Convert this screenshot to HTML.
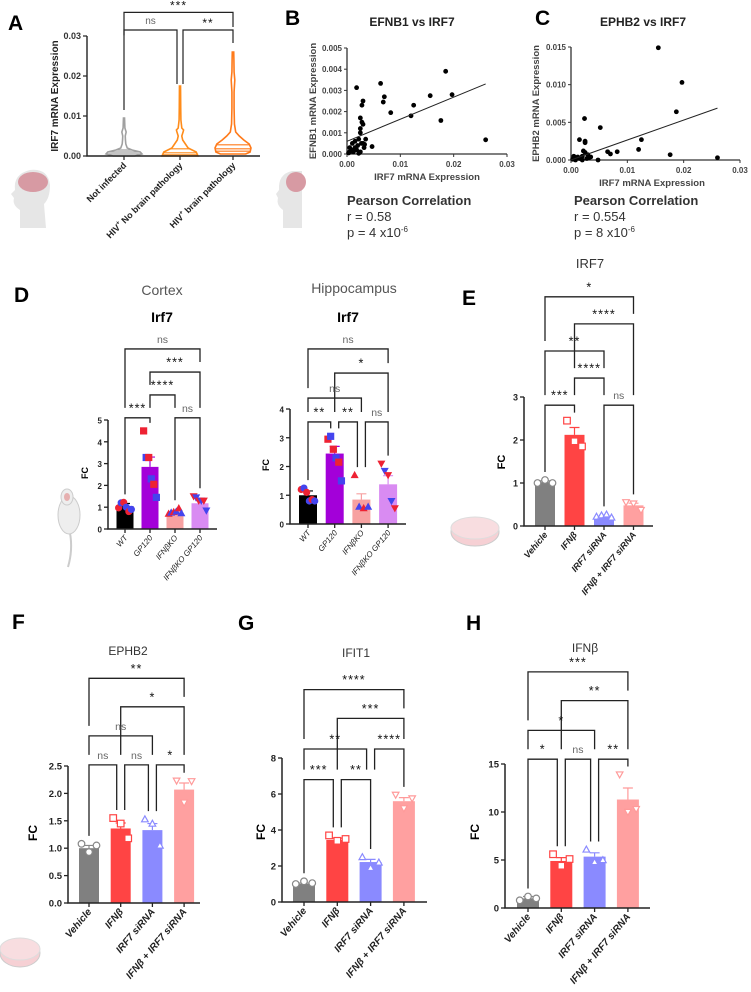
<!DOCTYPE html>
<html><head><meta charset="utf-8"><style>
html,body{margin:0;padding:0;background:#fff}
svg{display:block;font-family:"Liberation Sans",Arial,sans-serif}
</style></head><body>
<svg id="fig" width="751" height="992" viewBox="0 0 751 992" xmlns="http://www.w3.org/2000/svg">
<g font-weight="bold" font-size="21" fill="#000">
<text x="8" y="30">A</text>
<text x="285" y="25">B</text>
<text x="535" y="25">C</text>
<text x="14" y="302">D</text>
<text x="462" y="305">E</text>
<text x="12" y="629">F</text>
<text x="238" y="630">G</text>
<text x="466" y="630">H</text>
</g>
<text x="412" y="26" font-size="12" font-weight="bold" text-anchor="middle" fill="#222">EFNB1 vs IRF7</text>
<text x="643" y="26" font-size="12" font-weight="bold" text-anchor="middle" fill="#222">EPHB2 vs IRF7</text>
<text x="162" y="295" font-size="14" text-anchor="middle" fill="#555">Cortex</text>
<text x="354" y="293" font-size="14" text-anchor="middle" fill="#555">Hippocampus</text>
<text x="162" y="322" font-size="14" font-weight="bold" text-anchor="middle">Irf7</text>
<text x="348" y="322" font-size="14" font-weight="bold" text-anchor="middle">Irf7</text>
<text x="590" y="268" font-size="13" text-anchor="middle" fill="#333">IRF7</text>
<text x="128" y="655" font-size="12" text-anchor="middle" fill="#333">EPHB2</text>
<text x="356" y="657" font-size="12" text-anchor="middle" fill="#333">IFIT1</text>
<text x="585" y="652" font-size="12" text-anchor="middle" fill="#333">IFNβ</text>
<g font-size="13" fill="#333">
<text x="347" y="205" font-weight="bold">Pearson Correlation</text>
<text x="347" y="221">r = 0.58</text>
<text x="347" y="237">p = 4 x10<tspan font-size="8" dy="-5">-6</tspan></text>
<text x="574" y="205" font-weight="bold">Pearson Correlation</text>
<text x="574" y="221">r = 0.554</text>
<text x="574" y="237">p = 8 x10<tspan font-size="8" dy="-5">-6</tspan></text>
</g>
<g>
<path d="M20,228 L20,210 Q12,205 14,198 L11,194 L15,190 Q13,174 30,170 Q48,168 50,185 Q50,198 44,204 L46,228 Z" fill="#e6e6e6"/>
<ellipse cx="33" cy="182" rx="15" ry="10" fill="#d79aa3"/>
</g>
<g>
<path d="M283,228 L283,210 Q276,205 278,198 L276,194 L279,190 Q278,174 292,171 L302,171 L302,228 Z" fill="#e6e6e6"/>
<ellipse cx="296" cy="182" rx="10" ry="10" fill="#d79aa3"/>
</g>
<g>
<path d="M70,533 Q73,550 68,567" stroke="#ccc" stroke-width="2" fill="none"/>
<ellipse cx="69" cy="515" rx="11" ry="19" fill="#eee" stroke="#ccc"/>
<ellipse cx="67" cy="497" rx="6" ry="8" fill="#eee" stroke="#ccc"/>
<ellipse cx="67" cy="497" rx="3" ry="4" fill="#e6b0b0"/>
</g>
<g>
<ellipse cx="475" cy="532" rx="24" ry="14" fill="#f6d0d4" stroke="#ccc"/>
<ellipse cx="475" cy="528" rx="24" ry="11" fill="#f8dde0" stroke="#ddd"/>
</g>
<g>
<ellipse cx="20" cy="953" rx="20" ry="14" fill="#f6d0d4" stroke="#ccc"/>
<ellipse cx="20" cy="949" rx="20" ry="11" fill="#f8dde0" stroke="#ddd"/>
</g>
</svg>
<script>
const A_categories = ["Not infected", "No brain pathology", "brain pathology"];
const A_ticks = [0, 0.01, 0.02, 0.03];
const A_tickLabels = ["0.00", "0.01", "0.02", "0.03"];
const A_violin0 = [[0,0.6],[0.0005,1],[0.001,0.9],[0.0015,0.45],[0.002,0.18],[0.003,0.1],[0.004,0.08],[0.005,0.07],[0.006,0.12],[0.007,0.05],[0.0095,0.03]];
const A_violin1 = [[0,1],[0.001,0.9],[0.002,0.45],[0.003,0.3],[0.004,0.15],[0.005,0.1],[0.006,0.17],[0.0065,0.2],[0.007,0.1],[0.009,0.05],[0.012,0.04],[0.0175,0.03]];
const A_violin2 = [[0.0005,0.7],[0.001,0.95],[0.002,1],[0.003,0.9],[0.004,0.6],[0.005,0.35],[0.006,0.15],[0.008,0.08],[0.012,0.06],[0.016,0.06],[0.019,0.1],[0.021,0.06],[0.024,0.05],[0.026,0.04]];
const A_quartiles = [[0.0005,0.001,0.0015],[0.0003,0.0008,0.0018],[0.0012,0.0018,0.0028]];
const A_brackets = [[0,2,"***",0.0359],[0,1,"ns",0.0315],[1,2,"**",0.0315]];

const B_x = [0.0018,0.0063,0.0185,0.0197,0.0156,0.007,0.0068,0.003,0.0028,0.0082,0.0125,0.012,0.0176,0.026,0.0025,0.0028,0.003,0.0025,0.0025,0.0022,0.0035,0.003,0.0047,0.0032,0.002,0.0015,0.001,0.0008,0.0005,0.0003,0.0012,0.0018,0.0025,0.0022,0.0005,0.0015,0.0027,0.0033,0.0011];
const B_y = [0.00313,0.00333,0.0039,0.0028,0.00275,0.0027,0.00245,0.0025,0.0023,0.00195,0.0023,0.0018,0.00158,0.00067,0.0017,0.0015,0.0014,0.0012,0.001,0.0007,0.0007,0.0005,0.00035,0.0003,0.0004,0.0003,0.0005,0.0002,0.0001,0.00005,0.0001,0.0002,0.0001,0.00003,0.0003,0.0006,0.0005,0.00045,0.00015];
const B_fit = [0.104, 0.0006];
const B_xTicks = [0, 0.01, 0.02, 0.03];
const B_xLabels = ["0.00","0.01","0.02","0.03"];
const B_yTicks = [0,0.001,0.002,0.003,0.004,0.005];
const B_yLabels = ["0.000","0.001","0.002","0.003","0.004","0.005"];
const C_x = [0.0155,0.0197,0.0187,0.0024,0.0052,0.0125,0.012,0.0015,0.0025,0.0025,0.0065,0.007,0.0082,0.0176,0.026,0.0048,0.003,0.0025,0.002,0.0035,0.001,0.0005,0.0003,0.0015,0.0028,0.0008,0.002,0.0022,0.0032,0.0012];
const C_y = [0.0149,0.0103,0.0064,0.0055,0.0043,0.0027,0.0014,0.0027,0.0025,0.0023,0.0011,0.0008,0.0011,0.0007,0.0003,0.0,0.0007,0.001,0.0005,0.0004,0.0003,0.0005,0.0001,0.0002,0.0002,0.0,0.0,0.0012,0.0003,0.0004];
const C_fit = [0.265, 0.0000];
const C_xTicks = [0, 0.01, 0.02, 0.03];
const C_xLabels = ["0.00","0.01","0.02","0.03"];
const C_yTicks = [0,0.005,0.010,0.015];
const C_yLabels = ["0.000","0.005","0.010","0.015"];

const D_categories = ["WT","GP120","IFNβKO","IFNβKO GP120"];
const DC_means = [1.05, 2.85, 0.75, 1.18];
const DC_errors = [0.12, 0.45, 0.05, 0.12];
const DC_points = [[0.97,1.2,1.22,1.0,0.8,0.9],[4.5,3.28,3.28,2.3,2.05,1.45],[0.7,0.75,0.78,0.8,0.95,0.72],[1.5,1.45,1.3,1.3,1.3,0.85]];
const DC_ticks = [0,1,2,3,4,5];
const DC_brackets = [[0,3,"ns",8.26],[1,3,"***",7.2],[1,2,"****",6.15],[0,1,"***",5.1],[2,3,"ns",5.1]];
const DH_means = [1.0, 2.45, 0.85, 1.38];
const DH_errors = [0.15, 0.25, 0.2, 0.3];
const DH_points = [[1.2,1.25,1.1,0.8,0.85,0.8],[2.95,3.05,2.6,2.3,2.15,1.5],[1.7,0.6,0.55,0.6],[2.1,1.85,1.7,0.8,0.55]];
const DH_ticks = [0,1,2,3,4];
const DH_brackets = [[0,3,"ns",6.09],[1,3,"*",5.25],[0,2,"ns",4.38],[0,1,"**",3.55],[1,2,"**",3.55],[2,3,"ns",3.55]];
const T_categories = ["Vehicle","IFNβ","IRF7 siRNA","IFNβ + IRF7 siRNA"];
const E_means = [1.02, 2.12, 0.22, 0.48];
const E_errors = [0.03, 0.17, 0.03, 0.05];
const E_points = [[1.0,1.07,1.0],[2.45,1.97,1.85],[0.22,0.25,0.27,0.2],[0.55,0.52,0.37]];
const E_ticks = [0,1,2,3];
const E_brackets = [[0,3,"*",5.33],[1,3,"****",4.7],[0,2,"**",4.07],[1,2,"****",3.44],[0,1,"***",2.81],[2,3,"ns",2.81]];
const F_means = [1.0, 1.36, 1.33, 2.07];
const F_errors = [0.05, 0.1, 0.12, 0.12];
const F_points = [[1.08,0.93,1.05],[1.55,1.45,1.18],[1.53,1.45,1.05],[2.23,1.83,2.22]];
const F_ticks = [0,0.5,1,1.5,2,2.5];
const F_brackets = [[0,3,"**",4.1],[1,3,"*",3.58],[0,2,"ns",3.05],[0,1,"ns",2.52],[1,2,"ns",2.52],[2,3,"*",2.52]];
const G_means = [1.0, 3.45, 2.22, 5.6];
const G_errors = [0.05, 0.1, 0.15, 0.2];
const G_points = [[1.0,1.15,1.05],[3.7,3.4,3.5],[2.5,1.9,2.2],[5.95,5.2,5.75]];
const G_ticks = [0,2,4,6,8];
const G_brackets = [[0,3,"****",11.8],[1,3,"***",10.2],[0,2,"**",8.5],[2,3,"****",8.5],[0,1,"***",6.8],[1,2,"**",6.8]];
const H_means = [1.0, 4.9, 5.35, 11.3];
const H_errors = [0.2, 0.35, 0.4, 1.2];
const H_points = [[0.8,1.2,1.0],[5.6,4.4,5.1],[6.1,4.8,5.0],[13.9,10.0,10.3]];
const H_ticks = [0,5,10,15];
const H_brackets = [[0,3,"***",24.6],[1,3,"**",21.6],[0,2,"*",18.5],[0,1,"*",15.5],[1,2,"ns",15.5],[2,3,"**",15.5]];

const NS = "http://www.w3.org/2000/svg";
const svg = document.getElementById("fig");
function mk(tag, attrs, parent) {
  const e = document.createElementNS(NS, tag);
  for (const k in attrs) e.setAttribute(k, attrs[k]);
  (parent || svg).appendChild(e);
  return e;
}
function txt(s, attrs, parent) { const t = mk("text", attrs, parent); t.textContent = s; return t; }

(function () {
  const g = mk("g", {});
  
  
  const ax = 87, y0 = 156, ytop = 36, vmax = 0.03;
  const ys = v => y0 - (v / vmax) * (y0 - ytop);
  const xs = [124, 180, 233];
  const cols = ["#a0a0a0", "#ff8c1a", "#ff7a1a"];
  const profiles = [A_violin0, A_violin1, A_violin2];
  const maxHalf = 18;
  profiles.forEach((prof, i) => {
    let right = "", left = "";
    prof.forEach((p, k) => { right += (k ? "L" : "M") + (xs[i] + p[1] * maxHalf) + "," + ys(p[0]) + " "; });
    for (let k = prof.length - 1; k >= 0; k--) left += "L" + (xs[i] - prof[k][1] * maxHalf) + "," + ys(prof[k][0]) + " ";
    const v = mk("path", { d: right + left + "Z", fill: "none", stroke: cols[i], "stroke-width": 1.6 }, g);
    
    
    A_quartiles[i].forEach((q) => {
      let w = 0;
      for (let k = 0; k < prof.length - 1; k++) if (q >= prof[k][0] && q <= prof[k + 1][0]) { const t = (q - prof[k][0]) / (prof[k + 1][0] - prof[k][0]); w = prof[k][1] + t * (prof[k + 1][1] - prof[k][1]); }
      const l = mk("line", { x1: xs[i] - w * maxHalf, x2: xs[i] + w * maxHalf, y1: ys(q), y2: ys(q), stroke: cols[i], "stroke-width": 1.2 }, g);
      
      
    });
  });
  const axis = mk("path", { d: `M${ax},${ytop} L${ax},${y0} L260,${y0}`, stroke: "#222", "stroke-width": 1.4, fill: "none" }, g);
  
  
  A_ticks.forEach((t, i) => {
    mk("line", { x1: ax - 4, x2: ax, y1: ys(t), y2: ys(t), stroke: "#222", "stroke-width": 1.2 }, g);
    const tl = txt(A_tickLabels[i], { x: ax - 6, y: ys(t) + 3, "font-size": 9, "font-weight": "bold", "text-anchor": "end", fill: "#333" }, g);
    
    
  });
  xs.forEach(x => mk("line", { x1: x, x2: x, y1: y0, y2: y0 + 4, stroke: "#222", "stroke-width": 1.2 }, g));
  const yl = txt("IRF7 mRNA Expression", { x: 0, y: 0, "font-size": 10, "font-weight": "bold", "text-anchor": "middle", transform: "translate(58,96) rotate(-90)", fill: "#222" }, g);
  
  
  const labs = [["", A_categories[0]], ["HIV", " " + A_categories[1]], ["HIV", " " + A_categories[2]]];
  xs.forEach((x, i) => {
    const t = mk("text", { x: 0, y: 0, "font-size": 9, "font-weight": "bold", "text-anchor": "end", fill: "#222", transform: `translate(${x + 3},${y0 + 10}) rotate(-45)` }, g);
    
    
    if (labs[i][0]) {
      const a = mk("tspan", {}, t); a.textContent = "HIV";
      const b = mk("tspan", { "font-size": 6, dy: -4 }, t); b.textContent = "+";
      const c = mk("tspan", { dy: 4 }, t); c.textContent = labs[i][1];
    } else t.textContent = labs[i][1];
  });
  A_brackets.forEach(b => {
    let x1 = xs[b[0]], x2 = xs[b[1]];
    const y = ys(b[3]);
    if (b[0] === 1) x1 += 3;
    if (b[1] === 1) x2 -= 3;
    const bot1 = b[1] === 2 && b[0] === 0 ? y + 23 : (b[0] === 0 ? 110 : 84);
    const bot2 = b[1] === 2 && b[0] === 0 ? ys(0.0315) - 3 : (b[1] === 1 ? 84 : 43);
    const p = mk("path", { d: `M${x1},${bot1} L${x1},${y} L${x2},${y} L${x2},${bot2}`, fill: "none", stroke: "#222", "stroke-width": 1.2 }, g);
    
    
    const isNs = b[2] === "ns";
    const lt = txt(b[2], { x: (x1 + x2) / 2, y: isNs ? y - 6 : y - 3, "font-size": isNs ? 10 : 12, "text-anchor": "middle", fill: isNs ? "#666" : "#111", "letter-spacing": isNs ? 0 : 1 }, g);
    
    
  });
})();

function scatter(cfg) {
  const g = mk("g", {});
  
  
  const xs = v => cfg.ax + v / cfg.xmax * (cfg.xEnd - cfg.ax);
  const ys = v => cfg.y0 - v / cfg.ymax * (cfg.y0 - cfg.yTop);
  const axis = mk("path", { d: `M${cfg.ax},${cfg.yTop} L${cfg.ax},${cfg.y0} L${cfg.xEnd},${cfg.y0}`, stroke: "#333", "stroke-width": 1.3, fill: "none" }, g);
  
  
  cfg.yTicks.forEach((t, i) => {
    mk("line", { x1: cfg.ax - 3, x2: cfg.ax, y1: ys(t), y2: ys(t), stroke: "#333" }, g);
    const l = txt(cfg.yLabels[i], { x: cfg.ax - 5, y: ys(t) + 3, "font-size": 8, "font-weight": "bold", "text-anchor": "end", fill: "#444" }, g);
    
    
  });
  cfg.xTicks.forEach((t, i) => {
    mk("line", { x1: xs(t), x2: xs(t), y1: cfg.y0, y2: cfg.y0 + 3, stroke: "#333" }, g);
    const l = txt(cfg.xLabels[i], { x: xs(t), y: cfg.y0 + 13, "font-size": 8, "font-weight": "bold", "text-anchor": "middle", fill: "#444" }, g);
    
    
  });
  const xt = txt("IRF7 mRNA Expression", { x: cfg.xLabelX, y: cfg.y0 + 26, "font-size": 9.5, "font-weight": "bold", "text-anchor": "middle", fill: "#444" }, g);
  
  
  const yt = txt(cfg.yTitle, { x: 0, y: 0, "font-size": 9.5, "font-weight": "bold", "text-anchor": "middle", fill: "#444", transform: `translate(${cfg.yTitleX},${(cfg.y0 + cfg.yTop) / 2}) rotate(-90)` }, g);
  
  
  cfg.X.forEach((x, i) => {
    const c = mk("circle", { cx: xs(x), cy: ys(cfg.Y[i]), r: 2.4, fill: "#000" }, g);
    
    
  });
  const x2 = 0.026;
  const fl = mk("line", { x1: xs(0), y1: ys(cfg.fit[1]), x2: xs(x2), y2: ys(cfg.fit[1] + cfg.fit[0] * x2), stroke: "#222", "stroke-width": 1 }, g);
  
  
}
scatter({ name: "scatter-efnb1-irf7", ax: 347, y0: 154, yTop: 48, ymax: 0.005, xEnd: 507, xmax: 0.03, X: B_x, Y: B_y, fit: B_fit, xTicks: B_xTicks, xLabels: B_xLabels, yTicks: B_yTicks, yLabels: B_yLabels, xLabelX: 427, yTitle: "EFNB1 mRNA Expression", yTitleX: 316 });
scatter({ name: "scatter-ephb2-irf7", ax: 571, y0: 160, yTop: 47, ymax: 0.015, xEnd: 740, xmax: 0.03, X: C_x, Y: C_y, fit: C_fit, xTicks: C_xTicks, xLabels: C_xLabels, yTicks: C_yTicks, yLabels: C_yLabels, xLabelX: 652, yTitle: "EPHB2 mRNA Expression", yTitleX: 539 });

function marker(g, shape, cx, cy, s, fill, stroke) {
  let e;
  if (shape === "circle") e = mk("circle", { cx, cy, r: s, fill, stroke, "stroke-width": 1.2 }, g);
  else if (shape === "square") e = mk("rect", { x: cx - s, y: cy - s, width: 2 * s, height: 2 * s, fill, stroke, "stroke-width": 1.2 }, g);
  else if (shape === "tri") e = mk("path", { d: `M${cx},${cy - s} L${cx + s},${cy + s * 0.8} L${cx - s},${cy + s * 0.8}Z`, fill, stroke, "stroke-width": 1.2 }, g);
  else e = mk("path", { d: `M${cx},${cy + s} L${cx + s},${cy - s * 0.8} L${cx - s},${cy - s * 0.8}Z`, fill, stroke, "stroke-width": 1.2 }, g);
  return e;
}
function barChart(c) {
  const g = mk("g", {});
  
  
  const ys = v => c.y0 - v * c.ppu;
  const cx = i => c.first + i * c.step;
  const top = c.ticks[c.ticks.length - 1];
  c.means.forEach((m, i) => {
    const b = mk("rect", { x: cx(i) - c.bw / 2, y: ys(m), width: c.bw, height: m * c.ppu, fill: c.colors[i] }, g);
    
    
    const e = mk("path", { d: `M${cx(i)},${ys(m)} L${cx(i)},${ys(m + c.errs[i])} M${cx(i) - 5},${ys(m + c.errs[i])} L${cx(i) + 5},${ys(m + c.errs[i])}`, stroke: c.errColors[i], "stroke-width": 1.2, fill: "none" }, g);
    
    
    const pts = c.points[i], n = pts.length;
    pts.forEach((v, k) => {
      const dx = n > 1 ? (k - (n - 1) / 2) * (c.bw * 0.75 / (n - 1)) : 0;
      const fill = c.filled ? c.pointColors[k % 2] : "#fff";
      const stroke = c.filled ? c.pointColors[k % 2] : c.errColors[i];
      const p = marker(g, c.shapes[i], cx(i) + dx, ys(v), c.ms, fill, stroke);
      
      
    });
  });
  const xEnd = c.axisEnd;
  const axis = mk("path", { d: `M${c.x0},${ys(top)} L${c.x0},${c.y0} L${xEnd},${c.y0}`, stroke: "#222", "stroke-width": 1.5, fill: "none" }, g);
  
  
  c.ticks.forEach(t => {
    mk("line", { x1: c.x0 - 4, x2: c.x0, y1: ys(t), y2: ys(t), stroke: "#222", "stroke-width": 1.3 }, g);
    const l = txt(c.tickFmt(t), { x: c.x0 - 6, y: ys(t) + 3.5, "font-size": c.tickSize, "font-weight": "bold", "text-anchor": "end", fill: "#222" }, g);
    
    
  });
  const fc = txt("FC", { x: 0, y: 0, "font-size": c.fcSize, "font-weight": "bold", "text-anchor": "middle", transform: `translate(${c.fcX},${c.fcY}) rotate(-90)` }, g);
  
  
  c.cats.forEach((s, i) => {
    mk("line", { x1: cx(i), x2: cx(i), y1: c.y0, y2: c.y0 + 4, stroke: "#222", "stroke-width": 1.3 }, g);
    const l = txt(s, { x: 0, y: 0, "font-size": c.labSize, "font-weight": c.labBold ? "bold" : "normal", "font-style": "italic", "text-anchor": "end", fill: "#222", transform: `translate(${cx(i) + 3},${c.y0 + 9}) rotate(-50)` }, g);
    
    
  });
  const dataTop = i => ys(Math.max(c.means[i] + c.errs[i], ...c.points[i])) - 8;
  c.brackets.forEach(b => {
    const [i, j, lab, lev] = b;
    const y = ys(lev);
    let x1 = cx(i), x2 = cx(j);
    c.brackets.forEach(o => { if (o !== b && o[3] === lev) { if (o[1] === i) x1 += 4; if (o[0] === j) x2 -= 4; } });
    const legBottom = gi => {
      let best = null;
      c.brackets.forEach(o => { if (o[3] < lev && (o[0] === gi || o[1] === gi)) { if (best === null || o[3] > best) best = o[3]; } });
      return best === null ? dataTop(gi) : ys(best) - 10;
    };
    const p = mk("path", { d: `M${x1},${legBottom(i)} L${x1},${y} L${x2},${y} L${x2},${legBottom(j)}`, fill: "none", stroke: "#222", "stroke-width": 1.3 }, g);
    
    
    const isNs = lab === "ns";
    const t = txt(lab, { x: (x1 + x2) / 2, y: isNs ? y - 6 : y - 5.5, "font-size": isNs ? 10.5 : 12.5, "text-anchor": "middle", fill: isNs ? "#666" : "#111", "letter-spacing": isNs ? 0 : 1 }, g);
    
    
  });
}
const dCols = ["#000000", "#a300d9", "#f7a1a1", "#d98bf2"];
const tCols = ["#808080", "#ff4444", "#8a8aff", "#ffa0a0"];
const tErr = ["#888", "#ff4444", "#8a8aff", "#ff9a9a"];
const shapes = ["circle", "square", "tri", "tridown"];
const int = t => String(t);
barChart({ name: "bar-chart-cortex-irf7", cats: D_categories, means: DC_means, errs: DC_errors, points: DC_points, ticks: DC_ticks, brackets: DC_brackets,
  x0: 108, y0: 529, ppu: 21.8, first: 125, step: 25, bw: 17, axisEnd: 217, colors: dCols, errColors: dCols, filled: true, pointColors: ["#ee2233", "#4444ee"], shapes, ms: 3,
  tickFmt: int, tickSize: 8, fcX: 88, fcY: 473, fcSize: 9, labSize: 8, labBold: false });
barChart({ name: "bar-chart-hippocampus-irf7", cats: D_categories, means: DH_means, errs: DH_errors, points: DH_points, ticks: DH_ticks, brackets: DH_brackets,
  x0: 290, y0: 524, ppu: 28.75, first: 308, step: 26.7, bw: 18, axisEnd: 406, colors: dCols, errColors: dCols, filled: true, pointColors: ["#ee2233", "#4444ee"], shapes, ms: 3,
  tickFmt: int, tickSize: 8, fcX: 269, fcY: 465, fcSize: 9, labSize: 8, labBold: false });
barChart({ name: "bar-chart-e-irf7", cats: T_categories, means: E_means, errs: E_errors, points: E_points, ticks: E_ticks, brackets: E_brackets,
  x0: 524, y0: 526, ppu: 43, first: 545, step: 29.5, bw: 20, axisEnd: 653, colors: tCols, errColors: tErr, filled: false, shapes, ms: 3.3,
  tickFmt: int, tickSize: 9, fcX: 505, fcY: 462, fcSize: 11, labSize: 9, labBold: true });
barChart({ name: "bar-chart-f-ephb2", cats: T_categories, means: F_means, errs: F_errors, points: F_points, ticks: F_ticks, brackets: F_brackets,
  x0: 68, y0: 903, ppu: 54.8, first: 89, step: 31.7, bw: 20, axisEnd: 200, colors: tCols, errColors: tErr, filled: false, shapes, ms: 3.3,
  tickFmt: t => t.toFixed(1), tickSize: 9.5, fcX: 37, fcY: 833, fcSize: 12, labSize: 10, labBold: true });
barChart({ name: "bar-chart-g-ifit1", cats: T_categories, means: G_means, errs: G_errors, points: G_points, ticks: G_ticks, brackets: G_brackets,
  x0: 282, y0: 902, ppu: 18, first: 304, step: 33.3, bw: 22, axisEnd: 427, colors: tCols, errColors: tErr, filled: false, shapes, ms: 3.3,
  tickFmt: int, tickSize: 9.5, fcX: 265, fcY: 832, fcSize: 12, labSize: 10, labBold: true });
barChart({ name: "bar-chart-h-ifnb", cats: T_categories, means: H_means, errs: H_errors, points: H_points, ticks: H_ticks, brackets: H_brackets,
  x0: 505, y0: 908, ppu: 9.6, first: 528, step: 33.3, bw: 22, axisEnd: 650, colors: tCols, errColors: tErr, filled: false, shapes, ms: 3.3,
  tickFmt: int, tickSize: 9.5, fcX: 479, fcY: 832, fcSize: 12, labSize: 10, labBold: true });
</script>
</body></html>
